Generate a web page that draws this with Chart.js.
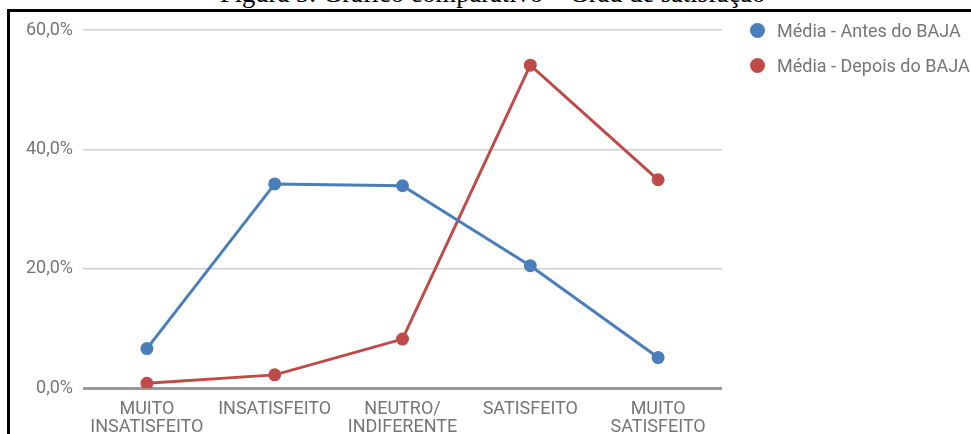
<!DOCTYPE html>
<html lang="pt-BR">
<head>
<meta charset="utf-8">
<title>Gráfico comparativo</title>
<script src="https://cdn.jsdelivr.net/npm/chart.js@4/dist/chart.umd.min.js"></script>
<style>
  html, body { margin: 0; padding: 0; width: 971px; height: 434px; overflow: hidden; background: #fff; }
  #caption {
    position: absolute; left: 220px; top: -20px; white-space: nowrap;
    font: 26.5px/26.5px "Liberation Serif", "DejaVu Serif", serif; color: #000;
  }
  #frame {
    position: absolute; left: 7px; top: 9px; width: 1100px; height: 600px;
    border: 3px solid #000; box-sizing: border-box; background: #fff;
  }
  #chart { position: absolute; left: 0; top: 0; }
  #legend {
    position: absolute; left: 747px; top: 20px; margin: 0; padding: 0; list-style: none;
    font: 18px Roboto, "Noto Sans", sans-serif; color: #757575; white-space: nowrap;
  }
  #legend li { height: 35px; display: flex; align-items: flex-start; }
  #legend .dot { width: 15px; height: 15px; border-radius: 50%; margin: 3px 12px 0 3px; flex: none; }
</style>
</head>
<body>
<div id="caption">Figura 5: Gráfico comparativo – Grau de satisfação</div>
<div id="frame"></div>
<canvas id="chart" width="971" height="434"></canvas>
<ul id="legend"></ul>
<script>
// Satisfaction levels on the x axis (two-line labels)
const categories = [
  ["MUITO", "INSATISFEITO"],
  ["INSATISFEITO"],
  ["NEUTRO/", "INDIFERENTE"],
  ["SATISFEITO"],
  ["MUITO", "SATISFEITO"]
];
// Average share of answers (%) per level
const mediaAntes = [6.6, 34.2, 33.9, 20.5, 5.1];
const mediaDepois = [0.8, 2.2, 8.2, 54.1, 34.9];
const seriesNames = ["Média - Antes do BAJA", "Média - Depois do BAJA"];
const seriesColors = ["#4a7ebb", "#be4b48"];
const yTicks = [0, 20, 40, 60];

const fmtPct = v => v.toFixed(1).replace(".", ",") + "%";

const chart = new Chart(document.getElementById("chart"), {
  type: "line",
  data: {
    labels: categories,
    datasets: [mediaAntes, mediaDepois].map((vals, i) => ({
      label: seriesNames[i],
      data: vals,
      borderColor: seriesColors[i],
      backgroundColor: seriesColors[i],
      pointBackgroundColor: seriesColors[i],
      pointBorderColor: seriesColors[i],
      borderWidth: 3,
      pointRadius: 5,
      tension: 0,
      fill: false
    }))
  },
  options: {
    responsive: false,
    devicePixelRatio: 1,
    animation: false,
    layout: { padding: { left: 0, right: 249, top: 30, bottom: 0 } },
    plugins: { legend: { display: false }, tooltip: { enabled: false } },
    scales: {
      x: {
        offset: true,
        grid: { display: false, drawTicks: false },
        border: { display: false },
        ticks: {
          color: "#757575", padding: 12, maxRotation: 0, autoSkip: false,
          font: { family: "Roboto", size: 18, lineHeight: 1.0 }
        },
        afterFit: s => { s.height = 46; }
      },
      y: {
        min: 0, max: 60,
        afterBuildTicks: s => { s.ticks = yTicks.map(v => ({ value: v })); },
        grid: {
          drawTicks: false,
          color: c => c.tick && c.tick.value === 0 ? "#9a9a9a" : "#cfcfcf",
          lineWidth: c => c.tick && c.tick.value === 0 ? 3 : 1.5
        },
        border: { display: false },
        ticks: {
          color: "#757575", padding: 10,
          font: { family: "Roboto", size: 18 },
          callback: v => fmtPct(v)
        },
        afterFit: s => { s.width = 83; }
      }
    }
  }
});

// Legend built from the chart's datasets
const legend = document.getElementById("legend");
chart.data.datasets.forEach(ds => {
  const li = document.createElement("li");
  const dot = document.createElement("span");
  dot.className = "dot";
  dot.style.background = ds.borderColor;
  li.appendChild(dot);
  li.appendChild(document.createTextNode(ds.label));
  legend.appendChild(li);
});
</script>
</body>
</html>
